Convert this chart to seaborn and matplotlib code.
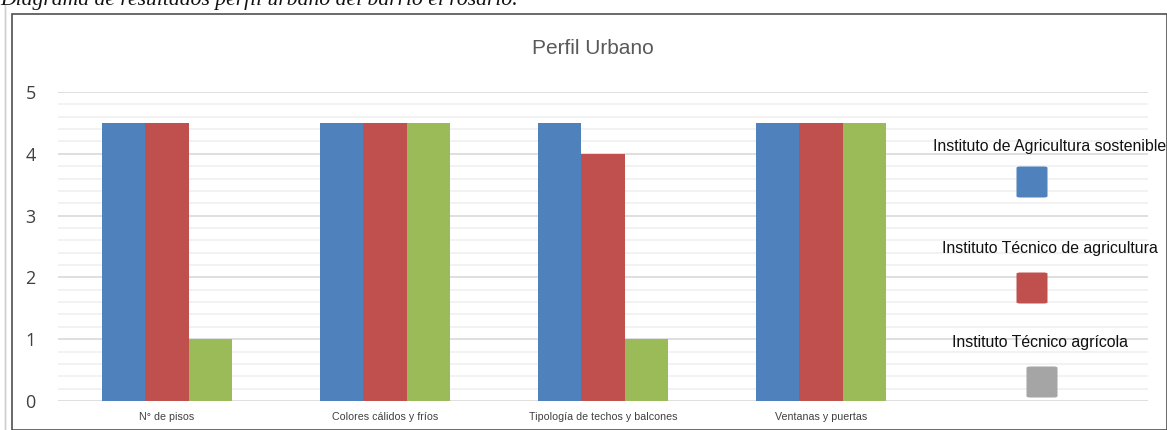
import matplotlib
matplotlib.use("Agg")
import matplotlib.pyplot as plt
from matplotlib.patches import Rectangle, FancyBboxPatch
from matplotlib.ticker import MultipleLocator
import seaborn as sns
import pandas as pd

categories = ["N° de pisos", "Colores cálidos y fríos", "Tipología de techos y balcones", "Ventanas y puertas"]
series_names = ["Instituto de Agricultura sostenible", "Instituto Técnico de agricultura", "Instituto Técnico agrícola"]
s1 = [4.5, 4.5, 4.5, 4.5]
s2 = [4.5, 4.5, 4.0, 4.5]
s3 = [1.0, 4.5, 1.0, 4.5]
colors = ["#4F81BD", "#C0504D", "#9BBB59"]
legend_colors = ["#4F81BD", "#C0504D", "#A5A5A5"]
title = "Perfil Urbano"
caption = "Diagrama de resultados perfil urbano del barrio el rosario."

rows = []
for name, vals in zip(series_names, [s1, s2, s3]):
    for c, v in zip(categories, vals):
        rows.append({"cat": c, "serie": name, "val": v})
df = pd.DataFrame(rows)

sns.set_theme(style="white")
plt.rcParams["font.family"] = ["Liberation Sans", "DejaVu Sans"]

W, H = 1167, 430
fig = plt.figure(figsize=(W / 100, H / 100), dpi=100)
ax = fig.add_axes([58 / W, 1 - 401 / H, (1148 - 58) / W, (401 - 92) / H])

sns.barplot(data=df, x="cat", y="val", hue="serie", order=categories,
            hue_order=series_names, palette=colors, width=0.6, ax=ax,
            saturation=1, legend=False, linewidth=0, zorder=3)
ax.set_xlim(-0.5, 4.5)
ax.set_ylim(0, 5)
ax.yaxis.set_major_locator(MultipleLocator(1))
ax.yaxis.set_minor_locator(MultipleLocator(0.2))
ax.grid(which="minor", axis="y", color="#F0F0F0", linewidth=1.2, zorder=0)
ax.grid(which="major", axis="y", color="#D9D9D9", linewidth=1.2, zorder=1)
ax.set_axisbelow(True)
for s in ax.spines.values():
    s.set_visible(False)
ax.set_xlabel("")
ax.set_ylabel("")
ax.tick_params(axis="both", which="both", length=0)
ax.set_xticks(range(len(categories)))
ax.set_xticklabels(categories, fontsize=7.7, color="#404040")
ax.tick_params(axis="x", pad=8)
ax.tick_params(axis="y", pad=16)
for t in ax.get_yticklabels():
    t.set_fontsize(13)
    t.set_color("#404040")
    t.set_family(["Open Sans", "DejaVu Sans"])

fig.text(593 / W, 1 - 48 / H, title, ha="center", va="center", fontsize=15, color="#595959")

# legend (labels above swatches)
leg_y_text = [147, 248, 343]
leg_y_box = [182, 288, 382]
leg_x_text = [1050, 1050, 1040]
leg_x_box = [1032, 1032, 1042]
for name, col, yt, yb, xt, xb in zip(series_names, legend_colors, leg_y_text, leg_y_box, leg_x_text, leg_x_box):
    fig.text(xt / W, 1 - yt / H, name, ha="center", va="center", fontsize=11.4, color="#111111")
    sz = 31
    fig.patches.append(FancyBboxPatch(((xb - sz / 2) / W, 1 - (yb + sz / 2) / H), sz / W, sz / H,
                                      boxstyle="round,pad=0,rounding_size=0.003",
                                      transform=fig.transFigure, facecolor=col, edgecolor="none"))

# frame
fig.patches.append(Rectangle((12 / W, 0), (W - 12) / W, 1 - 14 / H, transform=fig.transFigure,
                             fill=False, edgecolor="#505050", linewidth=1.2))
fig.patches.append(Rectangle((5 / W, -0.01), 0.0, 1, transform=fig.transFigure,
                             fill=False, edgecolor="#D0D0D0", linewidth=1))

fig.text(0.0 / W, 1 - 5 / H, caption, ha="left", va="baseline", fontsize=15.6,
         family=["Liberation Serif", "DejaVu Serif"], style="italic", color="#111111")

fig.savefig("out.png", dpi=100)
